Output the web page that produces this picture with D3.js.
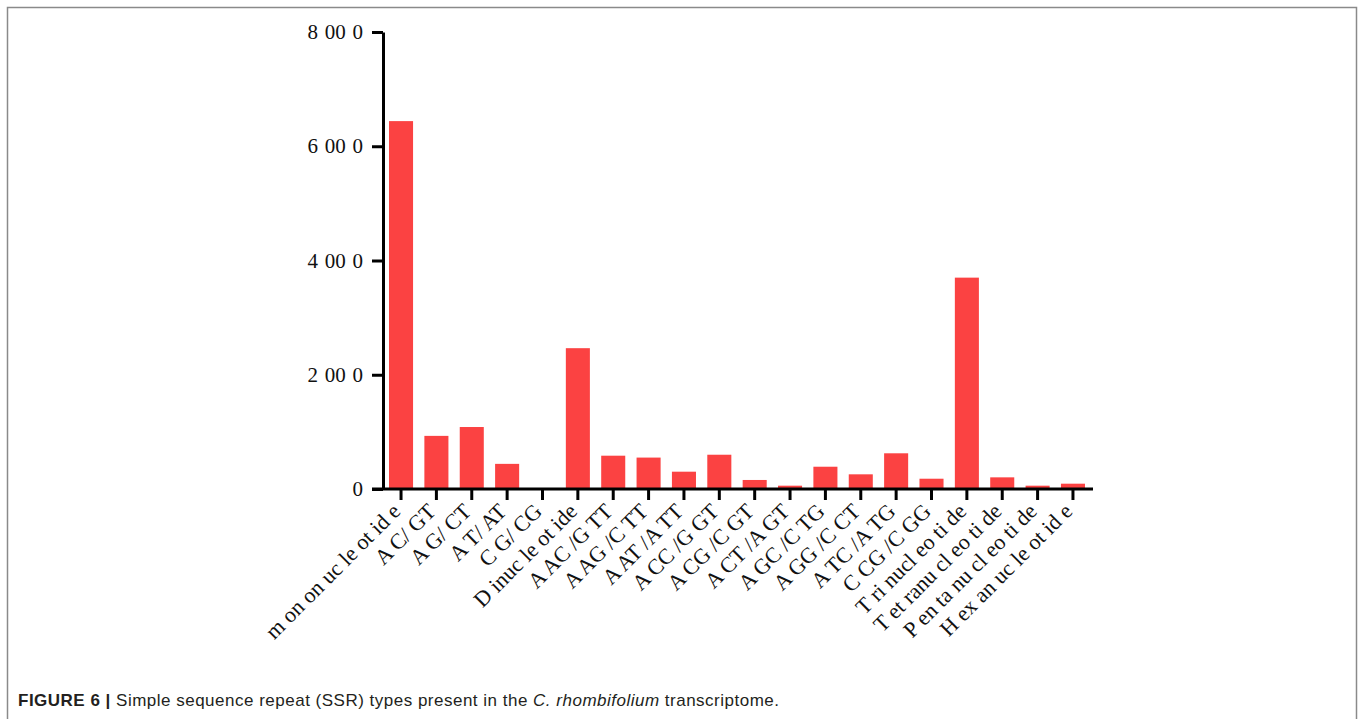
<!DOCTYPE html>
<html>
<head>
<meta charset="utf-8">
<script src="https://cdn.jsdelivr.net/npm/d3@7"></script>
<style>
  html, body { margin: 0; padding: 0; background: #fff; }
  svg { display: block; }
  .tick text { font-family: "Liberation Serif", "Times New Roman", serif; fill: #111; }
</style>
</head>
<body>
<svg id="chart" width="1363" height="719"></svg>
<script>
// SSR repeat types and their counts
const categories = [
  "m on on uc le ot id e", "A C/ GT", "A G/ CT", "A T/ AT", "C G/ CG",
  "D inuc le ot ide", "A AC /G TT", "A AG /C TT", "A AT /A TT", "A CC /G GT",
  "A CG /C GT", "A CT /A GT", "A GC /C TG", "A GG /C CT", "A TC /A TG",
  "C CG /C GG", "T ri nucl eo ti de", "T et ranu cl eo ti de", "P en ta nu cl eo ti de", "H ex an uc le ot id e"
];
const counts = [
  6440, 930, 1085, 440, 0,
  2465, 583, 550, 303, 600,
  158, 58, 390, 257, 625,
  180, 3700, 204, 58, 93
];
const yTickValues = [0, 2000, 4000, 6000, 8000];
const yTickLabels = ["0", "2 00 0", "4 00 0", "6 00 0", "8 00 0"];

const svg = d3.select("#chart");

// frame around the figure
svg.append("rect")
  .attr("x", 7.5).attr("y", 7.5)
  .attr("width", 1349).attr("height", 720)
  .attr("fill", "none").attr("stroke", "#8a8a8a").attr("stroke-width", 1.5);

const x = d3.scaleBand()
  .domain(categories)
  .range([383, 1091])
  .paddingInner(0.32)
  .paddingOuter(0.17);

const y = d3.scaleLinear()
  .domain([0, 8000])
  .range([489, 32]);

// bars
svg.append("g")
  .selectAll("rect")
  .data(counts)
  .join("rect")
  .attr("x", (d, i) => x(categories[i]))
  .attr("width", x.bandwidth())
  .attr("y", d => y(d))
  .attr("height", d => y(0) - y(d))
  .attr("fill", "#fb4242");

// y axis
const yAxis = svg.append("g")
  .attr("transform", `translate(${x.range()[0]},0)`)
  .call(d3.axisLeft(y)
    .tickValues(yTickValues)
    .tickFormat((d, i) => yTickLabels[i])
    .tickSize(11)
    .tickSizeOuter(0)
    .tickPadding(9));
yAxis.select(".domain").attr("stroke", "#000").attr("stroke-width", 3);
yAxis.selectAll(".tick line").attr("stroke", "#000").attr("stroke-width", 3);
yAxis.selectAll(".tick text")
  .attr("font-size", 21)
  .style("word-spacing", "1.5px");

// x axis
const xAxis = svg.append("g")
  .attr("transform", `translate(0,${y(0)})`)
  .call(d3.axisBottom(x).tickSize(11).tickSizeOuter(0));
xAxis.select(".domain").remove();
xAxis.selectAll(".tick line").attr("stroke", "#000").attr("stroke-width", 3);
xAxis.selectAll(".tick text")
  .attr("font-size", 22)
  .attr("text-anchor", "end")
  .attr("x", 0).attr("y", 0).attr("dy", "0.3em")
  .attr("transform", "translate(-4,19) rotate(-45)");

// baseline spanning from the y-axis tick to past the last bar
svg.append("line")
  .attr("x1", x.range()[0] - 11).attr("x2", x.range()[1] + 2)
  .attr("y1", y(0)).attr("y2", y(0))
  .attr("stroke", "#000").attr("stroke-width", 3);

// caption
const cap = svg.append("text")
  .attr("x", 18).attr("y", 706)
  .attr("font-family", "'Liberation Sans', Arial, sans-serif")
  .attr("font-size", 17)
  .attr("textLength", 761)
  .attr("lengthAdjust", "spacing")
  .attr("fill", "#231f20");
cap.append("tspan").attr("font-weight", "bold").text("FIGURE 6 |");
cap.append("tspan").text(" Simple sequence repeat (SSR) types present in the ");
cap.append("tspan").attr("font-style", "italic").text("C. rhombifolium");
cap.append("tspan").text(" transcriptome.");
</script>
</body>
</html>
